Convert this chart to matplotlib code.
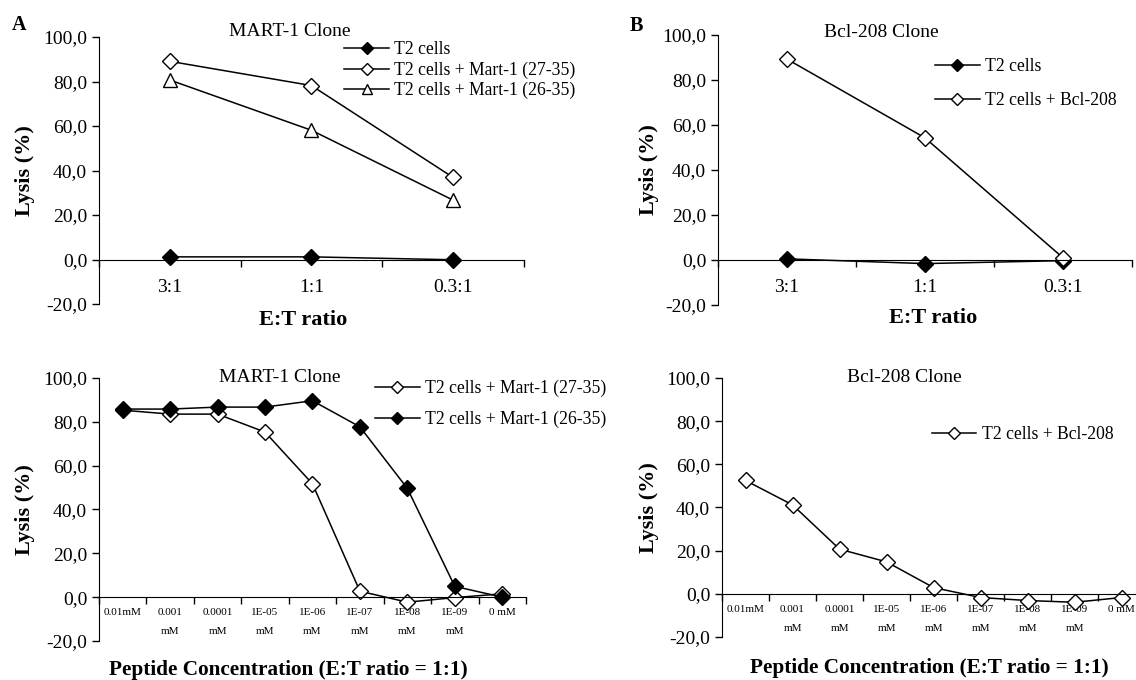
import matplotlib
matplotlib.use("Agg")
import matplotlib.pyplot as plt
from matplotlib.ticker import FuncFormatter, FixedLocator

plt.rcParams['font.family'] = ['Liberation Serif', 'DejaVu Serif']

# E:T ratio experiments (top row)
et_ratios = ['3:1', '1:1', '0.3:1']
mart_t2 = [1.2, 1.2, -0.1]
mart_27_35 = [89.1, 78.2, 36.9]
mart_26_35 = [80.7, 58.1, 26.7]
bcl_t2 = [0.5, -1.6, -0.3]
bcl_208 = [89.3, 54.3, 1.0]

# peptide titration (bottom row)
conc_labels = ['0.01mM', '0.001\nmM', '0.0001\nmM', '1E-05\nmM', '1E-06\nmM',
               '1E-07\nmM', '1E-08\nmM', '1E-09\nmM', '0 mM']
titr_27_35 = [85.3, 83.5, 83.5, 75.3, 51.7, 2.7, -2.3, -0.2, 1.5]
titr_26_35 = [85.8, 85.8, 86.7, 86.7, 89.6, 77.7, 49.6, 4.9, 0.0]
titr_bcl = [52.5, 41.2, 20.7, 14.8, 2.9, -1.7, -3.1, -3.9, -1.7]

TICK_FS = 14
LABEL_FS = 16
TITLE_FS = 14
LEG_FS = 12.7


def comma_fmt(v, pos):
    return f"{v:.1f}".replace('.', ',')


def setup_axes(ax, labels, small=False):
    n = len(labels)
    ax.set_xlim(-0.5, n - 0.5)
    ax.set_ylim(-20, 100)
    ax.set_yticks([-20, 0, 20, 40, 60, 80, 100])
    ax.yaxis.set_major_formatter(FuncFormatter(comma_fmt))
    ax.spines['top'].set_visible(False)
    ax.spines['right'].set_visible(False)
    ax.spines['bottom'].set_position(('data', 0))
    # ticks between categories, labels at category centres
    ax.xaxis.set_major_locator(FixedLocator([i + 0.5 for i in range(-1, n)]))
    ax.xaxis.set_major_formatter(FuncFormatter(lambda v, p: ''))
    ax.xaxis.set_minor_locator(FixedLocator(list(range(n))))
    ax.set_xticklabels(labels, minor=True)
    ax.tick_params(axis='x', which='major', direction='out', length=5, width=1)
    ax.tick_params(axis='x', which='minor', length=0,
                   labelsize=8 if small else TICK_FS, pad=8 if small else 14)
    ax.tick_params(axis='y', direction='out', length=5, width=1, labelsize=TICK_FS)
    if small:
        for t in ax.get_xticklabels(minor=True):
            t.set_linespacing(2.4)
            t.set_verticalalignment('top')
    ax.set_ylabel('Lysis (%)', fontsize=LABEL_FS, fontweight='bold')
    ax.yaxis.set_label_coords(-0.15, 0.5)


fig = plt.figure(figsize=(11.36, 6.8), dpi=100)
ax1 = fig.add_axes([0.0871, 0.5529, 0.3741, 0.3926])
ax2 = fig.add_axes([0.6320, 0.5515, 0.3644, 0.3970])
ax3 = fig.add_axes([0.0871, 0.0574, 0.3759, 0.3868])
ax4 = fig.add_axes([0.6356, 0.0632, 0.3724, 0.3810])

lw = 1.1
x3 = list(range(len(et_ratios)))
x9 = list(range(len(conc_labels)))

# panel A top
ax1.plot(x3, mart_t2, '-D', color='black', mfc='black', ms=8, lw=lw, label='T2 cells')
ax1.plot(x3, mart_27_35, '-D', color='black', mfc='white', ms=8, lw=lw,
         label='T2 cells + Mart-1 (27-35)')
ax1.plot(x3, mart_26_35, '-^', color='black', mfc='white', ms=10, lw=lw,
         label='T2 cells + Mart-1 (26-35)')
setup_axes(ax1, et_ratios)
ax1.set_xlabel('E:T ratio', fontsize=LABEL_FS, fontweight='bold')
ax1.xaxis.set_label_coords(0.48, -0.022)
ax1.text(0.45, 1.022, 'MART-1 Clone', transform=ax1.transAxes, ha='center', va='center', fontsize=TITLE_FS)

# panel B top
ax2.plot(x3, bcl_t2, '-D', color='black', mfc='black', ms=8, lw=lw, label='T2 cells')
ax2.plot(x3, bcl_208, '-D', color='black', mfc='white', ms=8, lw=lw, label='T2 cells + Bcl-208')
setup_axes(ax2, et_ratios)
ax2.set_xlabel('E:T ratio', fontsize=LABEL_FS, fontweight='bold')
ax2.xaxis.set_label_coords(0.52, -0.011)
ax2.yaxis.set_label_coords(-0.143, 0.5)
ax2.text(0.394, 1.01, 'Bcl-208 Clone', transform=ax2.transAxes, ha='center', va='center', fontsize=TITLE_FS)

# panel A bottom
ax3.plot(x9, titr_27_35, '-D', color='black', mfc='white', ms=8, lw=lw,
         label='T2 cells + Mart-1 (27-35)')
ax3.plot(x9, titr_26_35, '-D', color='black', mfc='black', ms=8, lw=lw,
         label='T2 cells + Mart-1 (26-35)')
setup_axes(ax3, conc_labels, small=True)
ax3.set_xlabel('Peptide Concentration (E:T ratio = 1:1)', fontsize=15.3, fontweight='bold')
ax3.xaxis.set_label_coords(0.443, -0.072)
ax3.text(0.424, 1.0, 'MART-1 Clone', transform=ax3.transAxes, ha='center', va='center', fontsize=TITLE_FS)

# panel B bottom
ax4.plot(x9, titr_bcl, '-D', color='black', mfc='white', ms=8, lw=lw, label='T2 cells + Bcl-208')
setup_axes(ax4, conc_labels, small=True)
ax4.set_xlabel('Peptide Concentration (E:T ratio = 1:1)', fontsize=15.3, fontweight='bold')
ax4.xaxis.set_label_coords(0.49, -0.081)
ax4.text(0.43, 1.0, 'Bcl-208 Clone', transform=ax4.transAxes, ha='center', va='center', fontsize=TITLE_FS)

leg_kw = dict(frameon=False, fontsize=LEG_FS, handlelength=2.55, handletextpad=0.3,
              borderpad=0, borderaxespad=0, markerscale=0.75, loc='upper left',
              bbox_transform=fig.transFigure)
ax1.legend(bbox_to_anchor=(0.303, 0.939), labelspacing=0.17, **leg_kw)
ax2.legend(bbox_to_anchor=(0.823, 0.914), labelspacing=0.95, **leg_kw)
ax3.legend(bbox_to_anchor=(0.330, 0.442), labelspacing=0.78, **leg_kw)
ax4.legend(bbox_to_anchor=(0.820, 0.374), **leg_kw)

fig.text(0.010, 0.963, 'A', fontsize=14.5, fontweight='bold', va='center')
fig.text(0.5546, 0.962, 'B', fontsize=14.5, fontweight='bold', va='center')

fig.savefig('out.png', dpi=100)
